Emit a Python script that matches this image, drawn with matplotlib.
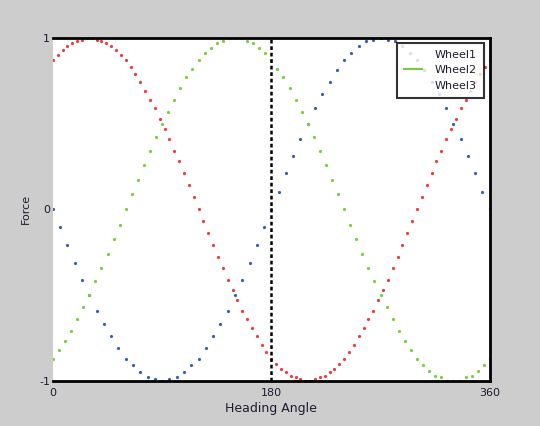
import matplotlib
matplotlib.use("Agg")
import matplotlib.pyplot as plt
from matplotlib.lines import Line2D

# Heading angle samples (degrees) for each wheel trace
angle_red = list(range(0, 361, 4))
angle_green = list(range(0, 361, 5))
angle_blue = list(range(0, 361, 6))

# Normalised force per wheel
wheel1 = [0.00, -0.10, -0.21, -0.31, -0.41, -0.50, -0.59, -0.67, -0.74, -0.81, -0.87, -0.91, -0.95, -0.98, -0.99, -1.00,
          -0.99, -0.98, -0.95, -0.91, -0.87, -0.81, -0.74, -0.67, -0.59, -0.50, -0.41, -0.31, -0.21, -0.10, 0.00,
          0.10, 0.21, 0.31, 0.41, 0.50, 0.59, 0.67, 0.74, 0.81, 0.87, 0.91, 0.95, 0.98, 0.99, 1.00,
          0.99, 0.98, 0.95, 0.91, 0.87, 0.81, 0.74, 0.67, 0.59, 0.50, 0.41, 0.31, 0.21, 0.10, 0.00]

wheel2 = [-0.87, -0.82, -0.77, -0.71, -0.64, -0.57, -0.50, -0.42, -0.34, -0.26, -0.17, -0.09, 0.00,
          0.09, 0.17, 0.26, 0.34, 0.42, 0.50, 0.57, 0.64, 0.71, 0.77, 0.82, 0.87, 0.91, 0.94, 0.97, 0.98,
          1.00, 1.00, 1.00, 0.98, 0.97, 0.94, 0.91, 0.87, 0.82, 0.77, 0.71, 0.64, 0.57, 0.50, 0.42, 0.34,
          0.26, 0.17, 0.09, 0.00, -0.09, -0.17, -0.26, -0.34, -0.42, -0.50, -0.57, -0.64, -0.71, -0.77,
          -0.82, -0.87, -0.91, -0.94, -0.97, -0.98, -1.00, -1.00, -1.00, -0.98, -0.97, -0.94, -0.91, -0.87]

wheel3 = [0.87, 0.90, 0.93, 0.95, 0.97, 0.98, 0.99, 1.00, 1.00, 0.99, 0.98, 0.97, 0.95, 0.93, 0.90,
          0.87, 0.83, 0.79, 0.74, 0.69, 0.64, 0.59, 0.53, 0.47, 0.41, 0.34, 0.28, 0.21, 0.14, 0.07,
          0.00, -0.07, -0.14, -0.21, -0.28, -0.34, -0.41, -0.47, -0.53, -0.59, -0.64, -0.69, -0.74, -0.79,
          -0.83, -0.87, -0.90, -0.93, -0.95, -0.97, -0.98, -0.99, -1.00, -1.00, -0.99, -0.98, -0.97, -0.95,
          -0.93, -0.90, -0.87, -0.83, -0.79, -0.74, -0.69, -0.64, -0.59, -0.53, -0.47, -0.41, -0.34, -0.28,
          -0.21, -0.14, -0.07, 0.00, 0.07, 0.14, 0.21, 0.28, 0.34, 0.41, 0.47, 0.53, 0.59, 0.64, 0.69,
          0.74, 0.79, 0.83, 0.87]

x_ticks = [0, 180, 360]
x_tick_labels = ["0", "180", "360"]
y_ticks = [-1, 0, 1]
y_tick_labels = ["-1", "0", "1"]
legend_labels = ["Wheel1", "Wheel2", "Wheel3"]

BLUE = "#3a5fb0"
GREEN = "#7ccc3c"
RED = "#ef3b3b"
TEXT = "#1c1c30"

fig = plt.figure(figsize=(5.40, 4.26), dpi=100, facecolor="#cdcdcd")
ax = fig.add_axes([0.098, 0.106, 0.809, 0.805])
ax.set_facecolor("white")

dot = dict(ls="none", marker="o", markersize=2.3, markeredgewidth=0)
ax.plot(angle_blue, wheel1, color=BLUE, **dot)
ax.plot(angle_green, wheel2, color=GREEN, **dot)
ax.plot(angle_red, wheel3, color=RED, **dot)

ax.axvline(180, color="black", lw=1.8, ls=(0, (1.5, 1.1)))

ax.set_xlim(0, 360)
ax.set_ylim(-1, 1)
ax.set_xticks(x_ticks)
ax.set_xticklabels(x_tick_labels)
ax.set_yticks(y_ticks)
ax.set_yticklabels(y_tick_labels)
ax.tick_params(length=0, labelsize=8, labelcolor=TEXT)
ax.tick_params(axis="x", pad=5)
ax.tick_params(axis="y", pad=2)

ax.spines["left"].set_visible(False)
for side in ("top", "bottom", "right"):
    ax.spines[side].set_linewidth(2)
    ax.spines[side].set_color("black")

ax.set_xlabel("Heading Angle", fontsize=9, color=TEXT, labelpad=3)
ax.set_ylabel("Force", fontsize=8, color=TEXT, labelpad=6)

handles = [
    Line2D([], [], ls="none", marker="o", markersize=0, color=BLUE),
    Line2D([], [], ls="-", lw=1.5, color=GREEN),
    Line2D([], [], ls="none", marker="o", markersize=0, color=RED),
]
leg = ax.legend(handles, legend_labels, loc="upper right", bbox_to_anchor=(0.986, 0.985),
                borderaxespad=0, fontsize=8, frameon=True, fancybox=False,
                handlelength=1.6, handletextpad=1.2, labelspacing=0.5,
                borderpad=0.6, labelcolor=TEXT)
leg.get_frame().set_edgecolor("black")
leg.get_frame().set_linewidth(1.5)

fig.savefig("out.png", dpi=100, facecolor=fig.get_facecolor())
